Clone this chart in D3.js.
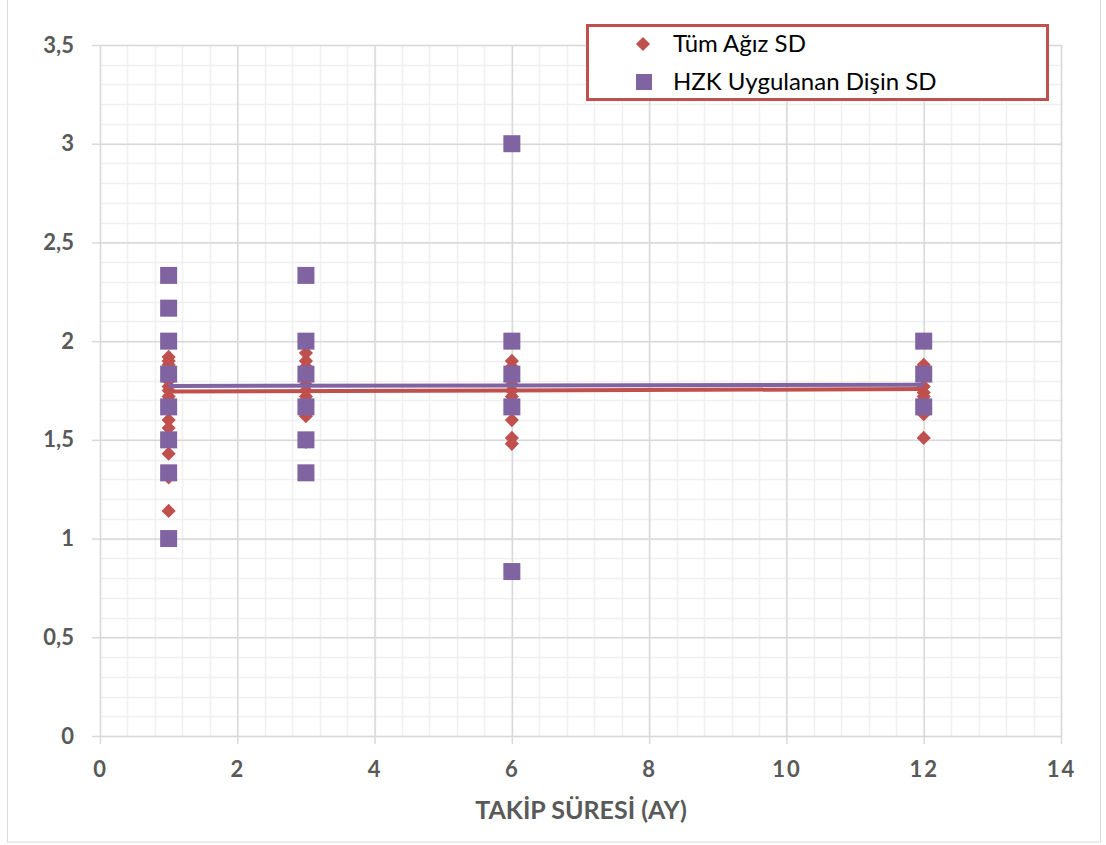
<!DOCTYPE html>
<html>
<head>
<meta charset="utf-8">
<script src="https://cdn.jsdelivr.net/npm/d3@7"></script>
<style>
  body { margin: 0; background: #fff; }
  svg { display: block; font-family: Lato, "Open Sans", sans-serif; }
</style>
</head>
<body>
<div id="chart"></div>
<script>
// data
var months = [1, 3, 6, 12];
var tumAgiz = [
  [1.92, 1.9, 1.88, 1.8, 1.77, 1.75, 1.72, 1.7, 1.65, 1.6, 1.56, 1.5, 1.43, 1.31, 1.14],
  [1.94, 1.9, 1.87, 1.78, 1.75, 1.72, 1.7, 1.62, 1.49],
  [1.9, 1.87, 1.78, 1.75, 1.72, 1.6, 1.51, 1.48],
  [1.88, 1.85, 1.77, 1.74, 1.72, 1.7, 1.63, 1.51]
];
var hzkDis = [
  [2.333, 2.167, 2.0, 1.833, 1.667, 1.5, 1.333, 1.0],
  [2.333, 2.0, 1.833, 1.667, 1.5, 1.333],
  [3.0, 2.0, 1.833, 1.667, 0.833],
  [2.0, 1.833, 1.667]
];
var trendX = [1, 12];
var tumTrend = [1.745, 1.757];
var hzkTrend = [1.773, 1.779];
var xTicks = [0, 2, 4, 6, 8, 10, 12, 14];
var yTicks = [0, 0.5, 1, 1.5, 2, 2.5, 3, 3.5];
var seriesNames = ['Tüm Ağız SD', 'HZK Uygulanan Dişin SD'];

var W = 1106, H = 845;
var red = '#c0504d', purple = '#8064a2';

var svg = d3.select('#chart').append('svg')
  .attr('width', W)
  .attr('height', H);

// outer chart border
svg.append('rect')
  .attr('x', 7.5).attr('y', -1)
  .attr('width', 1093).attr('height', 843)
  .attr('fill', 'none')
  .attr('stroke', '#d9d9d9');

var x = d3.scaleLinear().domain([0, 14]).range([100, 1061]);
var y = d3.scaleLinear().domain([0, 3.5]).range([736, 45]);

//minor grid
var minorX = d3.range(0, 36).map(function(i) { return i * 0.4; });
var minorY = d3.range(0, 36).map(function(i) { return i / 10; });

svg.append('g')
  .selectAll('line')
  .data(minorX)
  .enter().append('line')
  .attr('x1', function(d) { return Math.round(x(d)) + 0.5; })
  .attr('x2', function(d) { return Math.round(x(d)) + 0.5; })
  .attr('y1', y(0)).attr('y2', y(3.5))
  .attr('stroke', '#f0f0f0').attr('stroke-width', 1.5);

svg.append('g')
  .selectAll('line')
  .data(minorY)
  .enter().append('line')
  .attr('x1', x(0)).attr('x2', x(14))
  .attr('y1', function(d) { return Math.round(y(d)) + 0.5; })
  .attr('y2', function(d) { return Math.round(y(d)) + 0.5; })
  .attr('stroke', '#f0f0f0').attr('stroke-width', 1.5);

// major grid + axes
var xAxis = d3.axisBottom(x).tickValues(xTicks).tickSize(-(y(0) - y(3.5))).tickSizeOuter(0).tickPadding(25);
var yAxis = d3.axisLeft(y).tickValues(yTicks).tickSize(-(x(14) - x(0))).tickSizeOuter(0).tickPadding(26)
  .tickFormat(function(d) { return String(d).replace('.', ','); });

var gx = svg.append('g')
  .attr('transform', 'translate(0,' + y(0) + ')')
  .call(xAxis);
var gy = svg.append('g')
  .attr('transform', 'translate(' + x(0) + ',0)')
  .call(yAxis);

[gx, gy].forEach(function(g) {
  g.select('.domain').remove();
  g.selectAll('.tick line').attr('stroke', '#d9d9d9').attr('stroke-width', 1.5);
  g.selectAll('.tick text')
    .attr('fill', '#595959')
    .attr('font-size', 22)
    .attr('font-weight', 'bold')
    .attr('font-family', 'Lato, "Open Sans", sans-serif');
});
gx.selectAll('.tick text').attr('letter-spacing', 2);

// outside tick marks
gx.selectAll('.tick').append('line')
  .attr('y1', 0).attr('y2', 8)
  .attr('stroke', '#d9d9d9').attr('stroke-width', 1.5);
gy.selectAll('.tick').append('line')
  .attr('x1', 0).attr('x2', -8)
  .attr('stroke', '#d9d9d9').attr('stroke-width', 1.5);

// axis title
svg.append('text')
  .attr('x', 581)
  .attr('y', 819)
  .attr('text-anchor', 'middle')
  .attr('fill', '#595959')
  .attr('font-size', 25)
  .attr('font-weight', 'bold')
  .text('TAKİP SÜRESİ (AY)');

function flatten(groups) {
  var out = [];
  groups.forEach(function(vals, i) {
    vals.forEach(function(v) { out.push({ m: months[i], v: v }); });
  });
  return out;
}

var diamond = d3.symbol().type(d3.symbolDiamond2).size(128);

svg.append('g')
  .selectAll('path')
  .data(flatten(tumAgiz))
  .enter().append('path')
  .attr('d', diamond)
  .attr('transform', function(d) { return 'translate(' + x(d.m) + ',' + y(d.v) + ')'; })
  .attr('fill', red);

svg.append('g')
  .selectAll('rect')
  .data(flatten(hzkDis))
  .enter().append('rect')
  .attr('x', function(d) { return x(d.m) - 8.5; })
  .attr('y', function(d) { return y(d.v) - 8.5; })
  .attr('width', 17).attr('height', 17)
  .attr('fill', purple);

// trend lines
var line = d3.line()
  .x(function(d) { return x(d[0]); })
  .y(function(d) { return y(d[1]); });

svg.append('path')
  .datum(trendX.map(function(t, i) { return [t, hzkTrend[i]]; }))
  .attr('d', line)
  .attr('fill', 'none')
  .attr('stroke', purple)
  .attr('stroke-width', 4);

svg.append('path')
  .datum(trendX.map(function(t, i) { return [t, tumTrend[i]]; }))
  .attr('d', line)
  .attr('fill', 'none')
  .attr('stroke', red)
  .attr('stroke-width', 4);

// legend
var legend = svg.append('g');
legend.append('rect')
  .attr('x', 587.5).attr('y', 25.5)
  .attr('width', 460).attr('height', 74)
  .attr('fill', '#fff')
  .attr('stroke', red)
  .attr('stroke-width', 3);

legend.append('path')
  .attr('d', diamond)
  .attr('transform', 'translate(643,44)')
  .attr('fill', red);
legend.append('rect')
  .attr('x', 636).attr('y', 74)
  .attr('width', 16).attr('height', 16)
  .attr('fill', purple);

legend.selectAll('text')
  .data(seriesNames)
  .enter().append('text')
  .attr('x', 673)
  .attr('y', function(d, i) { return 44 + i * 38; })
  .attr('dy', '0.35em')
  .attr('font-size', 24)
  .attr('fill', '#000')
  .text(function(d) { return d; });
</script>
</body>
</html>
